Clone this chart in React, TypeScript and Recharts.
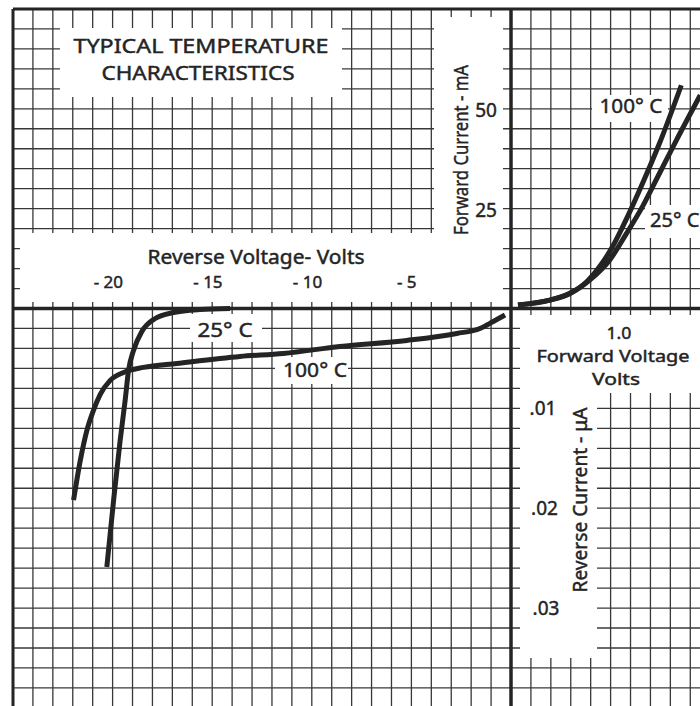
import React from 'react';
import { LineChart, Line, XAxis, YAxis, CartesianGrid, ReferenceLine } from 'recharts';

// forward characteristics (volts, mA)
const fwdVolts100 = [0.07, 0.39, 0.59, 0.76, 0.89, 1.02, 1.17, 1.32, 1.49, 1.71];
const fwdMa100 = [0.9, 2.1, 3.8, 6.7, 10.5, 15.5, 23, 31.3, 41.3, 55.9];
const fwdVolts25 = [0.07, 0.39, 0.59, 0.79, 0.99, 1.16, 1.32, 1.49, 1.66, 1.9];
const fwdMa25 = [0.9, 2.1, 3.7, 7.1, 12.1, 18.8, 25.5, 33.8, 42.1, 53.4];

// reverse characteristics (volts, µA)
const revVolts25 = [-20.29, -19.95, -19.62, -19.37, -19.2, -18.95, -18.53, -17.86, -16.94, -15.6, -14.1];
const revUa25 = [0.0259, 0.0192, 0.0132, 0.0092, 0.0062, 0.0042, 0.0023, 0.001, 0.0004, 0.0001, 0];
const revVolts100 = [
  -21.96, -21.62, -21.29, -20.96, -20.62, -20.12, -19.45, -18.45, -16.77, -13.6, -11.43, -8.58, -5.23, -2.72,
  -1.56, -0.89, -0.3,
];
const revUa100 = [
  0.0192, 0.0152, 0.0122, 0.0102, 0.0086, 0.0072, 0.0064, 0.0059, 0.0055, 0.0048, 0.0045, 0.0038, 0.0032, 0.0025,
  0.002, 0.0013, 0.00065,
];

const revVoltTicks = [-20, -15, -10, -5];
const fwdMaTicks = [50, 25];
const revUaTicks = ['.01', '.02', '.03'];

const W = 700;
const H = 706;
const LEFT = 13;
const TOP = 9;
const X0 = 511; // origin, px
const Y0 = 308.5;
const GX = 19.92; // one grid square, px
const GY = 19.97;

const toRows = (xs: number[], ys: number[]) => xs.map((v, k) => ({ v, i: ys[k] }));
const fwd100 = toRows(fwdVolts100, fwdMa100);
const fwd25 = toRows(fwdVolts25, fwdMa25);
const rev25 = toRows(revVolts25, revUa25);
const rev100 = toRows(revVolts100, revUa100);

const vrDomain = [(LEFT - X0) / GX, (W - X0) / GX];
const vfDomain = [vrDomain[0] / 5, vrDomain[1] / 5];
const ifDomain = [-((H - Y0) / GY) * 5, ((Y0 - TOP) / GY) * 5];
const irDomain = [-((Y0 - TOP) / GY) * 0.002, ((H - Y0) / GY) * 0.002];

const vPoints: number[] = [];
for (let k = -25; X0 + k * GX <= W; k++) vPoints.push(X0 + k * GX);
const hPoints: number[] = [];
for (let k = -15; Y0 + k * GY <= H; k++) hPoints.push(Y0 + k * GY);

const INK = '#242424';
const FONT = '"Noto Sans", sans-serif';
const TXT = { fill: INK, fontFamily: FONT, stroke: INK, strokeWidth: 0.45, textAnchor: 'middle' };

const whiteBoxes = [
  [60, 28, 342, 97],
  [20, 233, 503, 302],
  [434, 17, 503, 302],
  [520, 315, 700, 393],
  [520, 393, 597, 658],
  [592, 95, 668, 122],
  [645, 205, 700, 238],
  [190, 314, 262, 342],
  [275, 357, 348, 384],
];

function Labels() {
  const t = (x: number, y: number, s: string, size = 19, extra: any = {}) => (
    <text x={x} y={y} fontSize={size} {...TXT} {...extra}>
      {s}
    </text>
  );
  const fit = (w: number) => ({ textLength: w, lengthAdjust: 'spacingAndGlyphs' });
  return (
    <g>
      {whiteBoxes.map(([x1, y1, x2, y2], k) => (
        <rect key={k} x={x1} y={y1} width={x2 - x1} height={y2 - y1} fill="#fff" />
      ))}
      <line x1={LEFT} y1={TOP} x2={W} y2={TOP} stroke={INK} strokeWidth={3} />
      <line x1={LEFT} y1={TOP} x2={LEFT} y2={H} stroke={INK} strokeWidth={3} />

      {t(201, 52.5, 'TYPICAL TEMPERATURE', 19.5, fit(255))}
      {t(198, 79.5, 'CHARACTERISTICS', 19.5, fit(193))}

      {t(256, 263.5, 'Reverse Voltage- Volts', 19, fit(217))}
      {revVoltTicks.map((v) => {
        const digits = String(Math.abs(v)).length;
        return t(X0 + v * GX + digits * 5.2, 287.5, `- ${Math.abs(v)}`, 17, { key: v, textAnchor: 'end' });
      })}

      {t(0, 0, 'Forward Current - mA', 20, { transform: 'translate(468,150) rotate(-90)', ...fit(170) })}
      {fwdMaTicks.map((m) => t(486, Y0 - (m / 5) * GY + 8, String(m), 19, { key: m }))}

      {t(619, 339, '1.0', 16.5, fit(25))}
      {t(613, 362, 'Forward Voltage', 16.5, fit(153))}
      {t(616, 385, 'Volts', 16.5, fit(48))}

      {revUaTicks.map((s, k) => t(543 + k * 1.5, Y0 + (k + 1) * 5 * GY + 7, s, 19, { key: s }))}
      {t(0, 0, 'Reverse Current - \u03bcA', 19, { transform: 'translate(587,500) rotate(-90)', ...fit(185) })}

      {t(631, 113, '100\u00b0 C', 20, fit(63))}
      {t(650, 227, '25\u00b0 C', 20, { textAnchor: 'start' })}
      {t(225, 337, '25\u00b0 C', 20, fit(55))}
      {t(315, 377, '100\u00b0 C', 20, fit(64))}
    </g>
  );
}

export default function App() {
  return (
    <div style={{ position: 'absolute', left: 0, top: 0, width: W, height: H, background: '#fff' }}>
      <LineChart width={W} height={H} margin={{ top: TOP, right: 0, bottom: 0, left: LEFT }}>
        <XAxis xAxisId="vr" type="number" dataKey="v" domain={vrDomain} allowDataOverflow hide />
        <XAxis xAxisId="vf" type="number" dataKey="v" domain={vfDomain} allowDataOverflow hide />
        <YAxis yAxisId="if" type="number" domain={ifDomain} allowDataOverflow hide />
        <YAxis yAxisId="ir" type="number" domain={irDomain} allowDataOverflow reversed hide />
        <CartesianGrid
          xAxisId="vr"
          yAxisId="if"
          verticalPoints={vPoints}
          horizontalPoints={hPoints}
          stroke="#383838"
          strokeWidth={1.3}
        />
        <Labels />
        <ReferenceLine xAxisId="vr" yAxisId="if" x={0} stroke={INK} strokeWidth={3.5} />
        <ReferenceLine xAxisId="vr" yAxisId="if" y={0} stroke={INK} strokeWidth={3.5} />

        <Line data={fwd100} xAxisId="vf" yAxisId="if" dataKey="i" type="monotone" stroke={INK} strokeWidth={5} dot={false} isAnimationActive={false} />
        <Line data={fwd25} xAxisId="vf" yAxisId="if" dataKey="i" type="monotone" stroke={INK} strokeWidth={5} dot={false} isAnimationActive={false} />
        <Line data={rev25} xAxisId="vr" yAxisId="ir" dataKey="i" type="monotone" stroke={INK} strokeWidth={5} dot={false} isAnimationActive={false} />
        <Line data={rev100} xAxisId="vr" yAxisId="ir" dataKey="i" type="monotone" stroke={INK} strokeWidth={5} dot={false} isAnimationActive={false} />
      </LineChart>
    </div>
  );
}
